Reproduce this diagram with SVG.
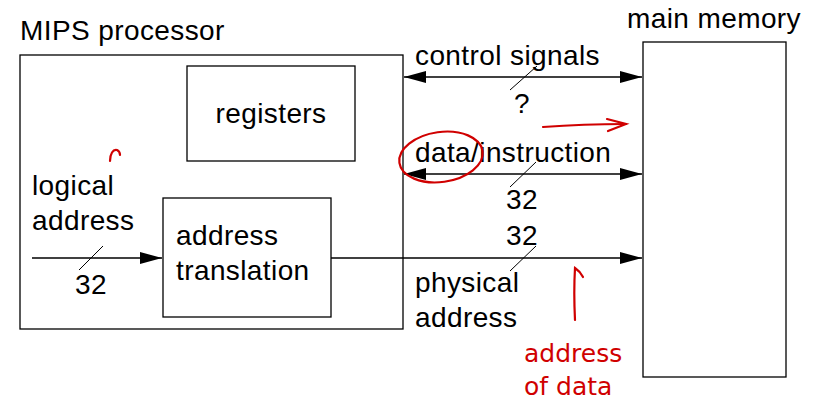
<svg xmlns="http://www.w3.org/2000/svg" width="823" height="404" viewBox="0 0 823 404">
<style>
.box{fill:none;stroke:#000;stroke-width:1.3}
.t{font-family:"Liberation Sans","DejaVu Sans",sans-serif;font-size:28px;fill:#000;letter-spacing:0.4px}
.ln{stroke:#000;stroke-width:1.3;fill:none}
.sl{stroke:#000;stroke-width:1;fill:none}
.red{stroke:#d00000;stroke-width:2.2;fill:none;stroke-linecap:round}
.rt{font-family:"DejaVu Sans",sans-serif;font-size:25px;fill:#d00000}
</style>
<defs>
<marker id="ah" markerWidth="22" markerHeight="12" refX="22" refY="6" orient="auto-start-reverse" markerUnits="userSpaceOnUse">
<path d="M0,0 L22,6 L0,12 Z" fill="#000"/>
</marker>
</defs>
<rect width="823" height="404" fill="#fff"/>
<g id="processor">
<rect class="box" x="20" y="55" width="383" height="274"/>
<text class="t" x="20" y="40">MIPS processor</text>
</g>
<g id="registers">
<rect class="box" x="187" y="66" width="168" height="95"/>
<text class="t" x="271" y="123" text-anchor="middle">registers</text>
</g>
<g id="translation">
<rect class="box" x="163" y="198" width="168" height="119"/>
<text class="t" x="176" y="245">address</text>
<text class="t" x="176" y="280">translation</text>
</g>
<g id="memory">
<rect class="box" x="643" y="42" width="143" height="335"/>
<text class="t" x="627" y="28">main memory</text>
</g>
<g id="connectors">
<line class="ln" x1="404" y1="77" x2="642" y2="77" marker-start="url(#ah)" marker-end="url(#ah)"/>
<line class="sl" x1="510" y1="90" x2="537" y2="66"/>
<text class="t" x="415" y="65">control signals</text>
<text class="t" x="522" y="113" text-anchor="middle">?</text>
<line class="ln" x1="404" y1="174" x2="642" y2="174" marker-start="url(#ah)" marker-end="url(#ah)"/>
<line class="sl" x1="510" y1="187" x2="536" y2="162"/>
<text class="t" x="415" y="162">data/instruction</text>
<text class="t" x="522" y="209" text-anchor="middle">32</text>
<line class="ln" x1="331" y1="258" x2="642" y2="258" marker-end="url(#ah)"/>
<line class="sl" x1="510" y1="271" x2="536" y2="246"/>
<text class="t" x="522" y="245" text-anchor="middle">32</text>
<text class="t" x="415" y="292">physical</text>
<text class="t" x="415" y="327">address</text>
<line class="ln" x1="32" y1="258" x2="162" y2="258" marker-end="url(#ah)"/>
<line class="sl" x1="79" y1="270" x2="103" y2="246"/>
<text class="t" x="91" y="294" text-anchor="middle">32</text>
<text class="t" x="32" y="195">logical</text>
<text class="t" x="32" y="230">address</text>
</g>
<g id="annotations">
<ellipse class="red" cx="441" cy="157" rx="42" ry="25" transform="rotate(-8 441 157)"/>
<path class="red" d="M543,127 C570,125 600,124 626,124"/>
<path class="red" d="M607,119 L626,124 L608,131"/>
<path class="red" d="M575,320 C574,300 574,285 575,268 C578,270 581,273 583,277"/>
<path class="red" d="M110,161 C110,154 113,149 117,150 C119,151 120,153 120,155"/>
<text class="rt" x="524" y="362">address</text>
<text class="rt" x="524" y="395">of data</text>
</g>
</svg>
